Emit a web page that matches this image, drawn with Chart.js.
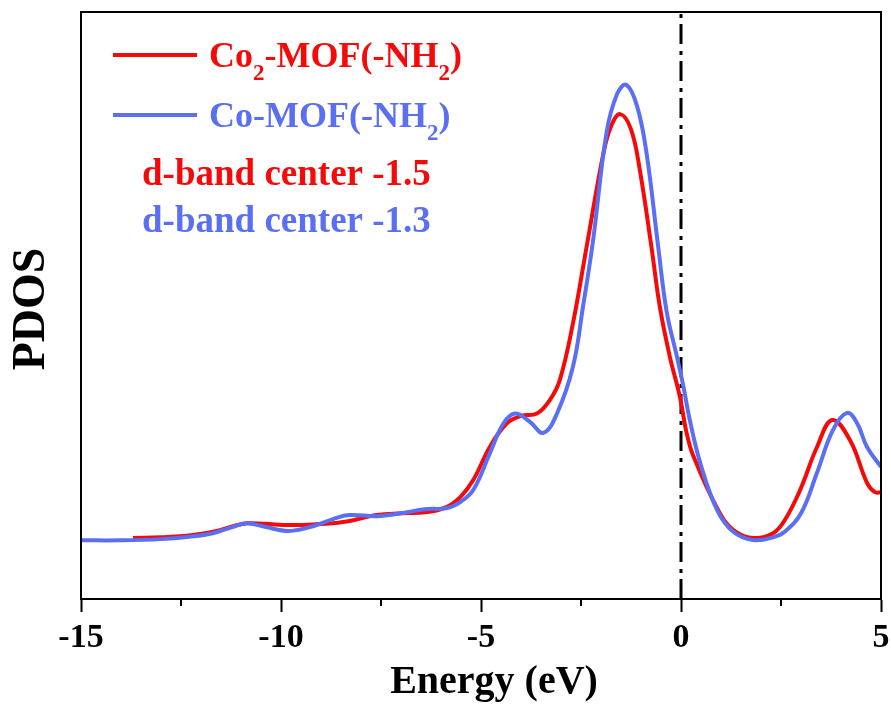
<!DOCTYPE html>
<html><head><meta charset="utf-8">
<script src="https://cdn.jsdelivr.net/npm/chart.js@4.4.0/dist/chart.umd.min.js"></script>
<style>html,body{margin:0;padding:0;background:#fff}#wrap{width:891px;height:706px;position:relative}</style>
</head><body><div id="wrap"><canvas id="c" width="891" height="706"></canvas></div>
<script>
// ---- data ----
const co2Energy = [-13.7,-13.0,-12.2,-11.6,-11.2,-10.85,-10.4,-9.8,-9.2,-8.45,-7.6,-7.0,-6.35,-5.85,-5.5,-5.19,-4.78,-4.36,-4.0,-3.6,-3.28,-3.03,-2.7,-2.36,-1.94,-1.75,-1.52,-1.25,-1.03,-0.74,-0.53,-0.28,-0.03,0.14,0.3,0.9,1.3,1.8,2.3,2.6,2.98,3.4,3.78,4.23,4.65,4.85,5.0];
const co2Pdos   = [10.4,10.5,10.9,11.6,12.4,12.9,12.8,12.6,12.7,13.1,14.3,14.6,14.8,15.7,17.5,20.3,25.9,29.9,31.2,31.6,33.9,37.3,47.0,60.0,75.9,80.5,82.6,80.0,73.1,60.0,49.8,41.3,34.5,28.3,24.5,15.5,11.8,10.4,11.2,13.5,18.6,25.9,30.5,27.0,19.8,18.2,18.2];
const coEnergy  = [-15,-14,-13,-12.3,-11.7,-11.2,-10.85,-10.4,-9.8,-9.2,-8.7,-8.3,-7.6,-7.0,-6.4,-5.85,-5.5,-5.19,-4.78,-4.44,-4.15,-3.78,-3.44,-3.1,-2.7,-2.45,-2.2,-1.86,-1.6,-1.37,-1.1,-0.86,-0.57,-0.36,-0.11,0.06,0.22,0.48,0.9,1.3,1.8,2.3,2.6,3.0,3.4,3.8,4.15,4.4,4.65,5.0];
const coPdos    = [10.0,10.0,10.2,10.6,11.2,12.3,12.9,12.3,11.6,12.4,13.6,14.3,14.1,14.6,15.3,15.5,16.6,18.6,24.8,29.9,31.6,30.2,28.3,31.6,39.6,49.8,61.0,79.5,86.0,87.6,84.0,75.9,60.0,49.0,41.5,36.2,30.5,23.2,15.2,11.5,10.05,10.5,11.5,14.6,21.5,28.8,31.7,30.0,25.9,22.5];
const fermiEnergy = [0, 0];
const fermiPdos = [0, 100];
const xTickLabels = [-15, -10, -5, 0, 5];
const seriesNames = ['Co2-MOF(-NH2)', 'Co-MOF(-NH2)'];
const dBandNotes = ['d-band center -1.5', 'd-band center -1.3'];

const RED = '#f50a0a';
const BLUE = '#5b6ff3';
const SERIF = '"Liberation Serif","Times New Roman",serif';

const pts = (xs, ys) => xs.map((x, i) => ({x, y: ys[i]}));

const decor = {
  id: 'decor',
  afterDraw(chart) {
    const ctx = chart.ctx, a = chart.chartArea, xs = chart.scales.x;
    ctx.save();
    // frame
    ctx.strokeStyle = '#000'; ctx.lineWidth = 2;
    ctx.strokeRect(a.left, a.top, a.right - a.left, a.bottom - a.top);
    // minor ticks
    for (let v = -12.5; v < 5; v += 5) {
      const px = Math.round(xs.getPixelForValue(v));
      ctx.beginPath(); ctx.moveTo(px, a.bottom); ctx.lineTo(px, a.bottom + 7); ctx.stroke();
    }
    // axis titles
    ctx.fillStyle = '#000';
    ctx.font = 'bold 40px ' + SERIF;
    ctx.textAlign = 'center'; ctx.textBaseline = 'alphabetic';
    ctx.fillText('Energy (eV)', 494, 693);
    ctx.save();
    ctx.translate(44, 309); ctx.rotate(-Math.PI / 2);
    ctx.font = 'bold 46px ' + SERIF;
    ctx.fillText('PDOS', 0, 0);
    ctx.restore();
    // legend
    const big = 'bold 36px ' + SERIF, sub = 'bold 23px ' + SERIF;
    const drawRich = (parts, x, y, color) => {
      ctx.fillStyle = color; ctx.textAlign = 'left';
      for (const [t, isSub] of parts) {
        ctx.font = isSub ? sub : big;
        ctx.fillText(t, x, isSub ? y + 13 : y);
        x += ctx.measureText(t).width;
      }
    };
    ctx.lineWidth = 4;
    ctx.strokeStyle = RED;
    ctx.beginPath(); ctx.moveTo(113, 55); ctx.lineTo(197, 55); ctx.stroke();
    drawRich([['Co', 0], ['2', 1], ['-MOF(-NH', 0], ['2', 1], [')', 0]], 209, 67, RED);
    ctx.strokeStyle = BLUE;
    ctx.beginPath(); ctx.moveTo(113, 115); ctx.lineTo(197, 115); ctx.stroke();
    drawRich([['Co-MOF(-NH', 0], ['2', 1], [')', 0]], 209, 127, BLUE);
    ctx.font = 'bold 37px ' + SERIF; ctx.textAlign = 'left';
    ctx.fillStyle = RED; ctx.fillText(dBandNotes[0], 142, 185);
    ctx.fillStyle = BLUE; ctx.fillText(dBandNotes[1], 142, 232);
    ctx.restore();
  }
};

new Chart(document.getElementById('c'), {
  type: 'line',
  data: {
    datasets: [
      {label: 'fermi', data: pts(fermiEnergy, fermiPdos), borderColor: '#000', borderWidth: 3,
       borderDash: [20, 6, 4, 7], pointRadius: 0, fill: false, tension: 0, order: 3},
      {label: seriesNames[0], data: pts(co2Energy, co2Pdos), borderColor: RED, borderWidth: 4,
       pointRadius: 0, fill: false, tension: 0.4, order: 2},
      {label: seriesNames[1], data: pts(coEnergy, coPdos), borderColor: BLUE, borderWidth: 4,
       pointRadius: 0, fill: false, tension: 0.4, order: 1}
    ]
  },
  options: {
    responsive: false, animation: false, devicePixelRatio: 1,
    layout: {padding: {left: 81, right: 10, top: 12, bottom: 0}},
    plugins: {legend: {display: false}, tooltip: {enabled: false}},
    scales: {
      x: {
        type: 'linear', min: -15, max: 5,
        afterBuildTicks: (s) => { s.ticks = xTickLabels.map(v => ({value: v})); },
        afterFit: (s) => { s.height = 107; s.paddingLeft = 0; s.paddingRight = 0; },
        ticks: {color: '#000', font: {family: SERIF, weight: 'bold', size: 34}, padding: 6,
                maxRotation: 0, autoSkip: false, callback: (v) => String(v)},
        grid: {drawOnChartArea: false, drawTicks: true, tickLength: 13, tickWidth: 2, tickColor: '#000'},
        border: {display: true, color: '#000', width: 2}
      },
      y: {
        display: false, min: 0, max: 100
      }
    }
  },
  plugins: [decor]
});
</script>
</body></html>
